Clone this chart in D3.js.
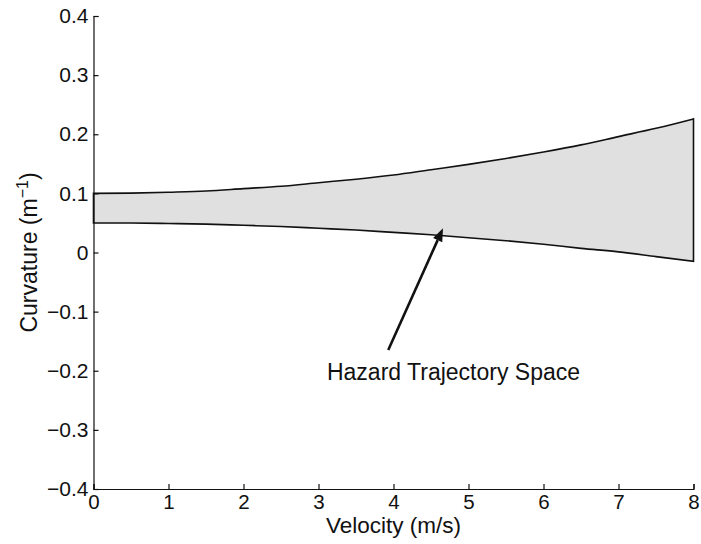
<!DOCTYPE html>
<html>
<head>
<meta charset="utf-8">
<script src="https://d3js.org/d3.v7.min.js"></script>
<style>
  body { margin: 0; background: #fff; }
  text { font-family: "Liberation Sans", Arial, sans-serif; fill: #111; }
  .axis path, .axis line { stroke: #111; stroke-width: 1.2px; }
</style>
</head>
<body>
<script>
// velocity samples (m/s) and the curvature bounds
const velocity = [0, 0.5, 1, 1.5, 2, 2.5, 3, 3.5, 4, 4.5, 5, 5.5, 6, 6.5, 7, 7.5, 8];
const upperCurv = [0.100, 0.1005, 0.102, 0.104, 0.108, 0.112, 0.118, 0.124, 0.131, 0.140, 0.149, 0.159, 0.170, 0.182, 0.196, 0.210, 0.226];
const lowerCurv = [0.050, 0.0498, 0.049, 0.048, 0.046, 0.044, 0.041, 0.038, 0.034, 0.030, 0.025, 0.020, 0.014, 0.007, 0.001, -0.007, -0.015];
const xTicks = [0, 1, 2, 3, 4, 5, 6, 7, 8];
const yTicks = [-0.4, -0.3, -0.2, -0.1, 0, 0.1, 0.2, 0.3, 0.4];
// annotation: text position and arrow (data units)
const noteText = "Hazard Trajectory Space";
const noteAt = [4.8, -0.216];
const arrowFrom = [3.93, -0.165];
const arrowTo = [4.66, 0.041];

const W = 701, H = 544;
const margin = {top: 16, right: 7.5, bottom: 55, left: 93.5};

const x = d3.scaleLinear().domain([0, 8]).range([margin.left, W - margin.right]);
const y = d3.scaleLinear().domain([-0.4, 0.4]).range([H - margin.bottom, margin.top]);

const svg = d3.select("body").append("svg")
  .attr("width", W).attr("height", H);

const data = velocity.map((v, i) => ({v: v, hi: upperCurv[i], lo: lowerCurv[i]}));

// shaded region
const area = d3.area()
  .x(d => x(d.v)).y0(d => y(d.lo)).y1(d => y(d.hi))
  .curve(d3.curveMonotoneX);
svg.append("path").datum(data)
  .attr("d", area)
  .attr("fill", "#e0e0e0")
  .attr("stroke", "#111")
  .attr("stroke-width", 1.6);

// axes, ticks pointing inward
const fmt = d => d === 0 ? "0" : d3.format(".1f")(d);
const gx = svg.append("g").attr("class", "axis")
  .attr("transform", `translate(0,${y(-0.4)})`)
  .call(d3.axisBottom(x).tickValues(xTicks).tickSize(-5).tickSizeOuter(-5).tickFormat(d3.format("d")));
gx.selectAll("text").attr("y", 5).attr("font-size", 20.5);

const gy = svg.append("g").attr("class", "axis")
  .attr("transform", `translate(${x(0)},0)`)
  .call(d3.axisLeft(y).tickValues(yTicks).tickSize(-5).tickSizeOuter(-5).tickFormat(fmt));
gy.selectAll("text").attr("x", -5).attr("font-size", 21);
svg.selectAll(".axis text").attr("fill", "#111");

// axis titles
svg.append("text")
  .attr("x", x(4)).attr("y", 533)
  .attr("text-anchor", "middle").attr("font-size", 22.5)
  .text("Velocity (m/s)");

const yl = svg.append("text")
  .attr("transform", `translate(37,${y(0)}) rotate(-90)`)
  .attr("text-anchor", "middle").attr("font-size", 23);
yl.append("tspan").text("Curvature (m");
yl.append("tspan").attr("font-size", 16).attr("dy", -9).text("−1");
yl.append("tspan").attr("dy", 9).text(")");

// annotation arrow
const x1 = x(arrowFrom[0]), y1 = y(arrowFrom[1]);
const x2 = x(arrowTo[0]), y2 = y(arrowTo[1]);
const ang = Math.atan2(y2 - y1, x2 - x1);
const headLen = 13, headW = 5;
const bx = x2 - headLen * Math.cos(ang), by = y2 - headLen * Math.sin(ang);
svg.append("line")
  .attr("x1", x1).attr("y1", y1).attr("x2", bx).attr("y2", by)
  .attr("stroke", "#111").attr("stroke-width", 2.6);
svg.append("path")
  .attr("d", `M${x2},${y2}L${bx + headW * Math.sin(ang)},${by - headW * Math.cos(ang)}L${bx - headW * Math.sin(ang)},${by + headW * Math.cos(ang)}Z`)
  .attr("fill", "#111");

svg.append("text")
  .attr("x", x(noteAt[0])).attr("y", y(noteAt[1]))
  .attr("text-anchor", "middle").attr("font-size", 23)
  .text(noteText);
</script>
</body>
</html>
